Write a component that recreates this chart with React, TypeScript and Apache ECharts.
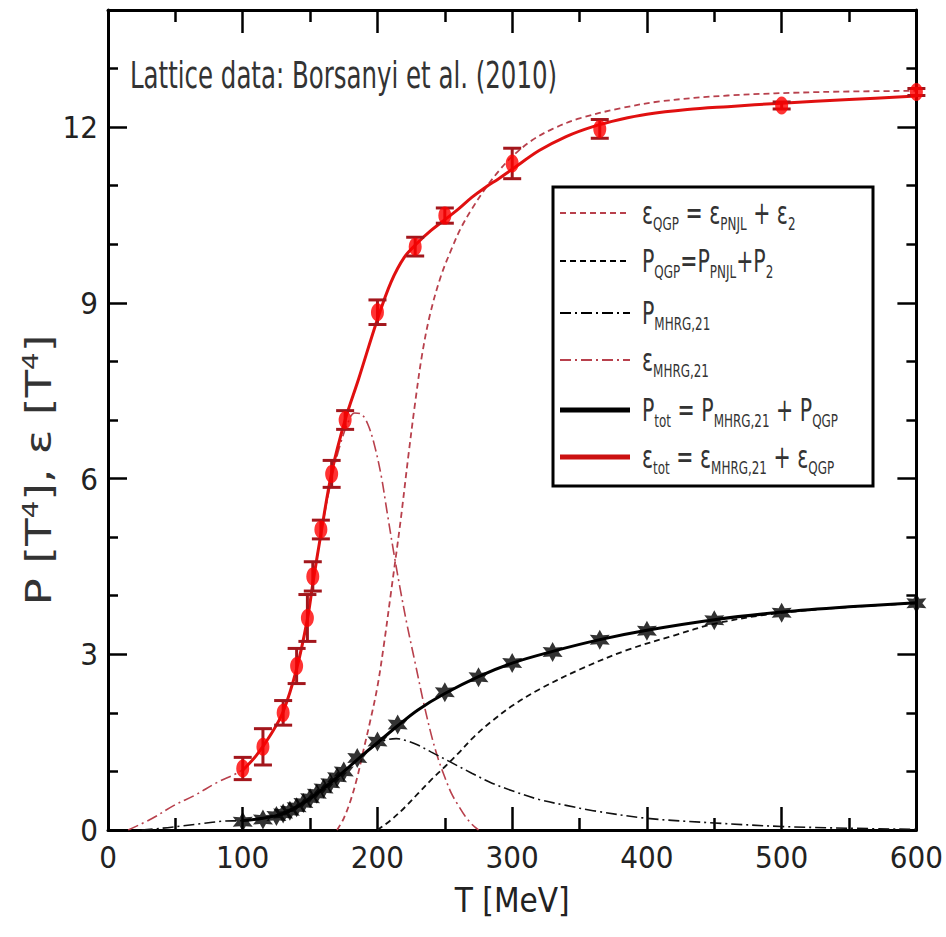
import React, { useEffect, useRef } from "react";
import * as echarts from "echarts";

// ---- Lattice data (Borsanyi et al. 2010) ----
const epsLatT = [100, 115, 130, 140, 148, 152, 158, 166, 176, 200, 228, 250, 300, 365, 500, 600];
const epsLatV = [1.05, 1.42, 2.0, 2.8, 3.62, 4.33, 5.13, 6.08, 7.0, 8.84, 9.96, 10.49, 11.38, 11.97, 12.37, 12.6];
const epsLatErr = [0.19, 0.31, 0.21, 0.3, 0.4, 0.25, 0.16, 0.23, 0.16, 0.21, 0.16, 0.13, 0.26, 0.16, 0.06, 0.06];

const pLatT = [100, 115, 125, 130, 135, 140, 145, 150, 155, 160, 165, 170, 175, 185, 200, 215, 250, 275, 300, 330, 365, 400, 450, 500, 600];
const pLatV = [0.14, 0.18, 0.24, 0.28, 0.33, 0.39, 0.46, 0.54, 0.62, 0.71, 0.8, 0.9, 1.0, 1.23, 1.51, 1.8, 2.35, 2.61, 2.85, 3.04, 3.25, 3.4, 3.58, 3.71, 3.87];

// ---- Model curves [T, value] ----
const epsTot = [
  [100, 1.02], [110, 1.27], [120, 1.6], [130, 2.02], [140, 2.75], [148, 3.6], [152, 4.2], [158, 5.05],
  [166, 6.1], [176, 7.0], [186, 7.7], [200, 8.72], [210, 9.35], [220, 9.78], [230, 10.03], [240, 10.24],
  [250, 10.42], [260, 10.6], [270, 10.8], [280, 10.97], [290, 11.12], [300, 11.28], [320, 11.6], [340, 11.84],
  [360, 12.01], [380, 12.13], [400, 12.22], [430, 12.3], [460, 12.35], [500, 12.41], [550, 12.47], [600, 12.53],
];
const epsQGP = [
  [170, 0], [175, 0.2], [180, 0.5], [185, 0.9], [190, 1.4], [195, 1.9], [200, 2.45], [205, 3.2], [210, 4.05],
  [217, 5.25], [223, 6.4], [228, 7.3], [233, 8.1], [239, 8.8], [247, 9.45], [255, 9.92], [262, 10.28],
  [270, 10.6], [280, 10.95], [290, 11.25], [300, 11.5], [315, 11.78], [330, 11.97], [350, 12.15], [380, 12.32],
  [410, 12.44], [460, 12.54], [530, 12.6], [600, 12.62],
];
const epsMHRG = [
  [15, 0], [33, 0.2], [49, 0.42], [65, 0.6], [80, 0.8], [100, 1.03], [110, 1.27], [120, 1.6], [130, 2.02],
  [140, 2.75], [148, 3.6], [152, 4.2], [158, 5.05], [166, 6.0], [172, 6.55], [178, 6.95], [183, 7.12],
  [188, 7.1], [193, 6.92], [198, 6.55], [203, 6.02], [207, 5.45], [212, 4.75], [217, 4.1], [222, 3.5],
  [228, 2.85], [234, 2.2], [240, 1.62], [245, 1.22], [250, 0.9], [255, 0.62], [260, 0.42], [265, 0.24],
  [270, 0.1], [275, 0],
];
const pTot = [
  [100, 0.16], [115, 0.2], [130, 0.28], [140, 0.39], [150, 0.54], [160, 0.71], [170, 0.9], [180, 1.1],
  [190, 1.3], [200, 1.49], [215, 1.78], [230, 2.05], [250, 2.33], [275, 2.62], [300, 2.85], [330, 3.05],
  [365, 3.25], [400, 3.41], [450, 3.59], [500, 3.72], [550, 3.81], [600, 3.88],
];
const pQGP = [
  [200, 0], [210, 0.17], [220, 0.38], [230, 0.62], [240, 0.86], [250, 1.08], [260, 1.31], [272, 1.6],
  [285, 1.86], [300, 2.12], [320, 2.4], [350, 2.74], [385, 3.07], [420, 3.32], [450, 3.52], [490, 3.68],
  [540, 3.79], [600, 3.87],
];
const pMHRG = [
  [25, 0], [40, 0.03], [55, 0.07], [70, 0.11], [85, 0.15], [100, 0.16], [115, 0.2], [130, 0.28], [140, 0.39],
  [150, 0.54], [160, 0.71], [170, 0.9], [180, 1.1], [190, 1.3], [200, 1.47], [207, 1.54], [214, 1.56],
  [222, 1.52], [230, 1.45], [240, 1.33], [255, 1.15], [270, 0.97], [285, 0.8], [300, 0.67], [320, 0.52],
  [340, 0.42], [360, 0.33], [400, 0.2], [450, 0.12], [500, 0.06], [550, 0.03], [600, 0.01],
];

const xTicks = { min: 0, max: 600, interval: 100 };
const yTicks = { min: 0, max: 14, interval: 3 };

const FONT = '"Liberation Sans Narrow", "Arial Narrow", "DejaVu Sans Condensed", "Liberation Sans", Arial, sans-serif';
const RED = "#e01010";
const DARKRED = "#a3161c";
const PINK = "#b8404c";
const DASH = [6, 4];
const DASHDOT = [11, 4, 2, 4];

function starPath() {
  const pts: string[] = [];
  for (let i = 0; i < 12; i++) {
    const a = (-90 + i * 30) * Math.PI / 180;
    const r = i % 2 === 0 ? 10 : 5.2;
    pts.push(`${(r * Math.cos(a)).toFixed(2)} ${(r * Math.sin(a)).toFixed(2)}`);
  }
  return "path://M" + pts.join(" L") + " Z";
}

export default function App() {
  const ref = useRef<HTMLDivElement>(null);
  useEffect(() => {
    if (!ref.current) return;
    const chart = echarts.init(ref.current, null, { renderer: "svg" });

    const axisLineStyle = { color: "#000", width: 3 };
    const mkX = (pos: string, show: boolean) => ({
      type: "value", position: pos, ...xTicks,
      axisLine: { show: true, onZero: false, lineStyle: axisLineStyle },
      axisTick: { show: true, inside: true, length: 23, lineStyle: { color: "#000", width: 2.5 } },
      minorTick: { show: true, splitNumber: 2, length: 12, lineStyle: { color: "#000", width: 2.5 } },
      splitLine: { show: false },
      axisLabel: { show, color: "#222", fontSize: 31, fontFamily: FONT, margin: 11 },
      name: show ? "T [MeV]" : "",
      nameLocation: "middle", nameGap: 54,
      nameTextStyle: { color: "#222", fontSize: 33, fontFamily: FONT },
    });
    const mkY = (pos: string, show: boolean) => ({
      type: "value", position: pos, ...yTicks,
      axisLine: { show: true, onZero: false, lineStyle: axisLineStyle },
      axisTick: { show: true, inside: true, length: 19, lineStyle: { color: "#000", width: 2.5 } },
      minorTick: { show: true, splitNumber: 3, length: 10, lineStyle: { color: "#000", width: 2.5 } },
      splitLine: { show: false },
      axisLabel: { show, showMaxLabel: false, color: "#222", fontSize: 31, fontFamily: FONT, margin: 10 },
    });

    const line = (name: string, data: number[][], color: string, width: number, type: any, z: number) => ({
      name, type: "line", data, showSymbol: false, symbol: "none",
      smooth: 0.35,
      lineStyle: { color, width, type }, z, silent: true,
    });

    const legendRows = [
      { y: 213, color: PINK, width: 2, dash: DASH, text: "ε{s|QGP} = ε{s|PNJL} + ε{s|2}" },
      { y: 261, color: "#000", width: 2, dash: DASH, text: "P{s|QGP}=P{s|PNJL}+P{s|2}" },
      { y: 313, color: "#000", width: 2, dash: DASHDOT, text: "P{s|MHRG,21}" },
      { y: 360, color: PINK, width: 2, dash: DASHDOT, text: "ε{s|MHRG,21}" },
      { y: 410, color: "#000", width: 5, dash: null, text: "P{s|tot} = P{s|MHRG,21} + P{s|QGP}" },
      { y: 457, color: "#cc1111", width: 5, dash: null, text: "ε{s|tot} = ε{s|MHRG,21} + ε{s|QGP}" },
    ];
    const legendEls: any[] = [
      { type: "rect", shape: { x: 553, y: 187, width: 320, height: 299 }, style: { fill: "#fff", stroke: "#000", lineWidth: 3 }, z: 20 },
    ];
    legendRows.forEach((r) => {
      legendEls.push({
        type: "line", shape: { x1: 560, y1: r.y, x2: 630, y2: r.y },
        style: { stroke: r.color, lineWidth: r.width, lineDash: r.dash || undefined }, z: 21,
      });
      legendEls.push({
        type: "text", x: 642, y: r.y, z: 21, scaleX: 0.95, scaleY: 1.3,
        style: {
          text: r.text, fill: "#333", fontSize: 24, fontFamily: FONT, verticalAlign: "middle",
          rich: { s: { fontSize: 14, fontFamily: FONT, fill: "#333", padding: [16, 0, 0, 0] } },
        },
      });
    });

    chart.setOption({
      animation: false,
      grid: { left: 108, right: 26, top: 10, bottom: 107, containLabel: false },
      xAxis: [mkX("bottom", true), mkX("top", false)],
      yAxis: [mkY("left", true), mkY("right", false)],
      series: [
        line("eps_MHRG", epsMHRG, PINK, 1.6, DASHDOT, 2),
        line("P_MHRG", pMHRG, "#111", 1.6, DASHDOT, 2),
        line("eps_QGP", epsQGP, PINK, 1.8, DASH, 2),
        line("P_QGP", pQGP, "#111", 1.8, DASH, 2),
        line("eps_tot", epsTot, RED, 3, "solid", 3),
        line("P_tot", pTot, "#000", 3, "solid", 3),
        {
          name: "eps_err", type: "custom", z: 4, silent: true,
          data: epsLatT.map((t, i) => [t, epsLatV[i], epsLatErr[i]]),
          encode: { x: 0, y: 1 },
          renderItem: (params: any, api: any) => {
            const x = api.value(0), y = api.value(1), e = api.value(2);
            const top = api.coord([x, y + e]);
            const bot = api.coord([x, y - e]);
            const hw = 9;
            const st = { stroke: DARKRED, lineWidth: 3 };
            return {
              type: "group",
              children: [
                { type: "line", shape: { x1: top[0], y1: top[1], x2: bot[0], y2: bot[1] }, style: st },
                { type: "line", shape: { x1: top[0] - hw, y1: top[1], x2: top[0] + hw, y2: top[1] }, style: st },
                { type: "line", shape: { x1: bot[0] - hw, y1: bot[1], x2: bot[0] + hw, y2: bot[1] }, style: st },
              ],
            };
          },
        },
        {
          name: "eps_lattice", type: "scatter", z: 5, silent: true,
          data: epsLatT.map((t, i) => [t, epsLatV[i]]),
          symbol: "circle", symbolSize: [13, 18],
          itemStyle: { color: "#ff0000" },
        },
        {
          name: "P_lattice", type: "scatter", z: 5, silent: true,
          data: pLatT.map((t, i) => [t, pLatV[i]]),
          symbol: starPath(), symbolSize: 20,
          itemStyle: { color: "#000" },
        },
      ],
      graphic: [
        {
          type: "text", x: 130, y: 75, z: 20, scaleX: 0.85, scaleY: 1.15,
          style: { text: "Lattice data: Borsanyi et al. (2010)", fill: "#333", fontSize: 32, fontFamily: FONT, verticalAlign: "middle" },
        },
        {
          type: "text", x: 38, y: 470, rotation: Math.PI / 2, z: 20, scaleX: 1.4, scaleY: 1.0,
          style: {
            text: "P [T{sup|4}], ε [T{sup|4}]", fill: "#333", fontSize: 36, fontFamily: FONT,
            align: "center", verticalAlign: "middle",
            rich: { sup: { fontSize: 22, fontFamily: FONT, fill: "#333", padding: [0, 0, 16, 0] } },
          },
        },
        ...legendEls,
      ],
    });
    return () => chart.dispose();
  }, []);
  return <div ref={ref} style={{ position: "fixed", left: 0, top: 0, width: 946, height: 937, background: "#fff" }} />;
}
